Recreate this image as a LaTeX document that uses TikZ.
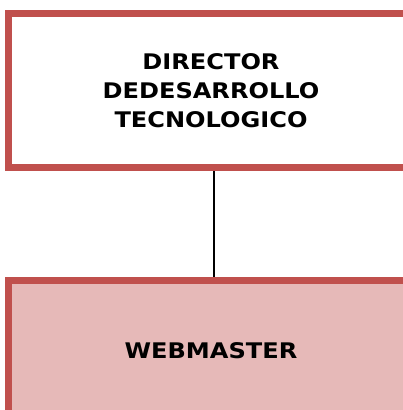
\documentclass[tikz,border=0pt]{standalone}
\usepackage{fontspec}
\setmainfont{DejaVu Sans}[FakeStretch=1.12]
\definecolor{boxred}{HTML}{C0504D}
\definecolor{boxpink}{HTML}{E6B9B8}
\begin{document}
\begin{tikzpicture}[x=1pt,y=1pt,
  orgbox/.style={draw=boxred, line width=7pt, rectangle, align=center,
    font=\fontsize{21.5}{29}\selectfont\bfseries, text=black}]
\useasboundingbox (0,0) rectangle (402,-410);
\node[orgbox, fill=white, minimum width=406pt, minimum height=154.7pt] (dir) at (211,-90.6)
  {DIRECTOR\\DEDESARROLLO\\TECNOLOGICO};
\node[orgbox, fill=boxpink, minimum width=406pt, minimum height=142pt] (web) at (211,-351)
  {WEBMASTER};
\coordinate (lx) at (213.5,0);
\draw[line width=2pt, black] (dir.south -| lx) -- (web.north -| lx);
\end{tikzpicture}
\end{document}
